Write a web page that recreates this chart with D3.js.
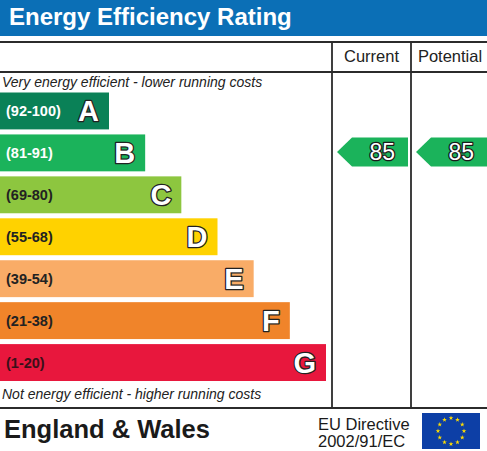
<!DOCTYPE html>
<html>
<head>
<meta charset="utf-8">
<script src="https://cdn.jsdelivr.net/npm/d3@7"></script>
<style>
  body { margin: 0; background: #fff; }
  svg { display: block; font-family: "Liberation Sans", Arial, sans-serif; }
</style>
</head>
<body>
<svg id="chart" width="487" height="451"></svg>
<script>
// --- Данные ---
const bands = ["A", "B", "C", "D", "E", "F", "G"];
const ranges = ["(92-100)", "(81-91)", "(69-80)", "(55-68)", "(39-54)", "(21-38)", "(1-20)"];
const bandMin = [92, 81, 69, 55, 39, 21, 1];
const columns = ["Current", "Potential"];
const scores = [85, 85];

const W = 487, H = 451;
const svg = d3.select("#chart");

// Цвета полос
const color = d3.scaleOrdinal()
    .domain(bands)
    .range(["#0a8157", "#1bb35b", "#8dc63f", "#ffd200", "#f9ac67", "#f0842a", "#e8173d"]);
const labelColor = d3.scaleOrdinal()
    .domain(bands)
    .range(["#fff", "#fff", "#222", "#222", "#222", "#222", "#3a1018"]);

// Шкалы
const y = d3.scaleBand().domain(bands).range([92.5, 381]).paddingInner(0.12);
const barW = d3.scaleLinear().domain([0, bands.length - 1]).range([109, 326]);
const colX = d3.scaleOrdinal().domain(columns).range([332, 411]);
const colW = 76;

// --- Заголовок ---
svg.append("rect").attr("x", 0).attr("y", 0).attr("width", W).attr("height", 36)
    .attr("fill", "#0b6fb6");
svg.append("text").attr("x", 9).attr("y", 25)
    .attr("fill", "#fff").attr("font-size", 24).attr("font-weight", "bold")
    .text("Energy Efficiency Rating");

// --- Таблица ---
const lines = svg.append("g").attr("stroke", "#2b2b2b").attr("stroke-width", 1.8);
[42, 72, 408].forEach(v => {
    lines.append("line").attr("x1", 0).attr("x2", W).attr("y1", v).attr("y2", v);
});
columns.forEach(c => {
    lines.append("line").attr("x1", colX(c)).attr("x2", colX(c)).attr("y1", 42).attr("y2", 408);
});
svg.selectAll(".col-head").data(columns).enter().append("text")
    .attr("class", "col-head")
    .attr("x", d => colX(d) + (d === "Current" ? 39.5 : 39))
    .attr("y", 62).attr("text-anchor", "middle")
    .attr("font-size", 16.5).attr("fill", "#222")
    .text(d => d);

svg.append("text").attr("x", 2).attr("y", 87)
    .attr("font-size", 14).attr("font-style", "italic").attr("fill", "#222")
    .text("Very energy efficient - lower running costs");
svg.append("text").attr("x", 2).attr("y", 399)
    .attr("font-size", 14).attr("font-style", "italic").attr("fill", "#222")
    .text("Not energy efficient - higher running costs");

// --- Полосы ---
const bar = svg.selectAll(".band").data(bands).enter().append("g").attr("class", "band");
bar.append("rect")
    .attr("x", 0).attr("y", d => y(d))
    .attr("width", (d, i) => barW(i)).attr("height", y.bandwidth())
    .attr("fill", d => color(d));
bar.append("text")
    .attr("x", 6).attr("y", d => y(d) + y.bandwidth() / 2 + 5.5)
    .attr("font-size", 14.5).attr("font-weight", "bold")
    .attr("fill", d => labelColor(d))
    .text((d, i) => ranges[i]);
bar.append("text")
    .attr("x", (d, i) => barW(i) - 10).attr("y", d => y(d) + y.bandwidth() / 2 + 10.5)
    .attr("text-anchor", "end")
    .attr("font-size", 29).attr("font-weight", "bold")
    .attr("fill", "#fff").attr("stroke", "#222").attr("stroke-width", 2.6)
    .attr("paint-order", "stroke").attr("stroke-linejoin", "round")
    .text(d => d);

// --- Стрелки рейтинга ---
const bandOf = s => bands[bandMin.findIndex(m => s >= m)];
const arrows = svg.selectAll(".arrow").data(columns).enter().append("g").attr("class", "arrow");
arrows.append("path")
    .attr("d", (c, i) => {
        const b = bandOf(scores[i]);
        const cy = y(b) + y.bandwidth() / 2 - 1;
        const x0 = colX(c), h = 14.5;
        return `M${x0 + 5},${cy} L${x0 + 20},${cy - h} L${x0 + colW},${cy - h} L${x0 + colW},${cy + h} L${x0 + 20},${cy + h} Z`;
    })
    .attr("fill", (c, i) => color(bandOf(scores[i])));
arrows.append("text")
    .attr("x", c => colX(c) + 63)
    .attr("y", (c, i) => y(bandOf(scores[i])) + y.bandwidth() / 2 + 7.5)
    .attr("text-anchor", "end")
    .attr("font-size", 23)
    .attr("fill", "#fff").attr("stroke", "#1a1a1a").attr("stroke-width", 2.6)
    .attr("paint-order", "stroke").attr("stroke-linejoin", "round")
    .text((c, i) => scores[i]);

// --- Подвал ---
svg.append("text").attr("x", 4).attr("y", 438)
    .attr("font-size", 25.5).attr("font-weight", "bold").attr("fill", "#1a1a1a")
    .text("England & Wales");
svg.append("text").attr("x", 318).attr("y", 430)
    .attr("font-size", 16.5).attr("fill", "#1a1a1a").text("EU Directive");
svg.append("text").attr("x", 318).attr("y", 447)
    .attr("font-size", 16.5).attr("fill", "#1a1a1a").text("2002/91/EC");

// Флаг ЕС
const flag = svg.append("g").attr("transform", "translate(422,413)");
flag.append("rect").attr("width", 58).attr("height", 36).attr("fill", "#0d3fa6");
const star = d3.symbol().type(d3.symbolStar).size(7);
flag.selectAll("path.star").data(d3.range(12)).enter().append("path")
    .attr("class", "star")
    .attr("transform", d => {
        const a = d / 12 * 2 * Math.PI;
        return `translate(${29 + 13 * Math.sin(a)},${18 - 13 * Math.cos(a)})`;
    })
    .attr("d", star)
    .attr("fill", "#ffdd00");
</script>
</body>
</html>
